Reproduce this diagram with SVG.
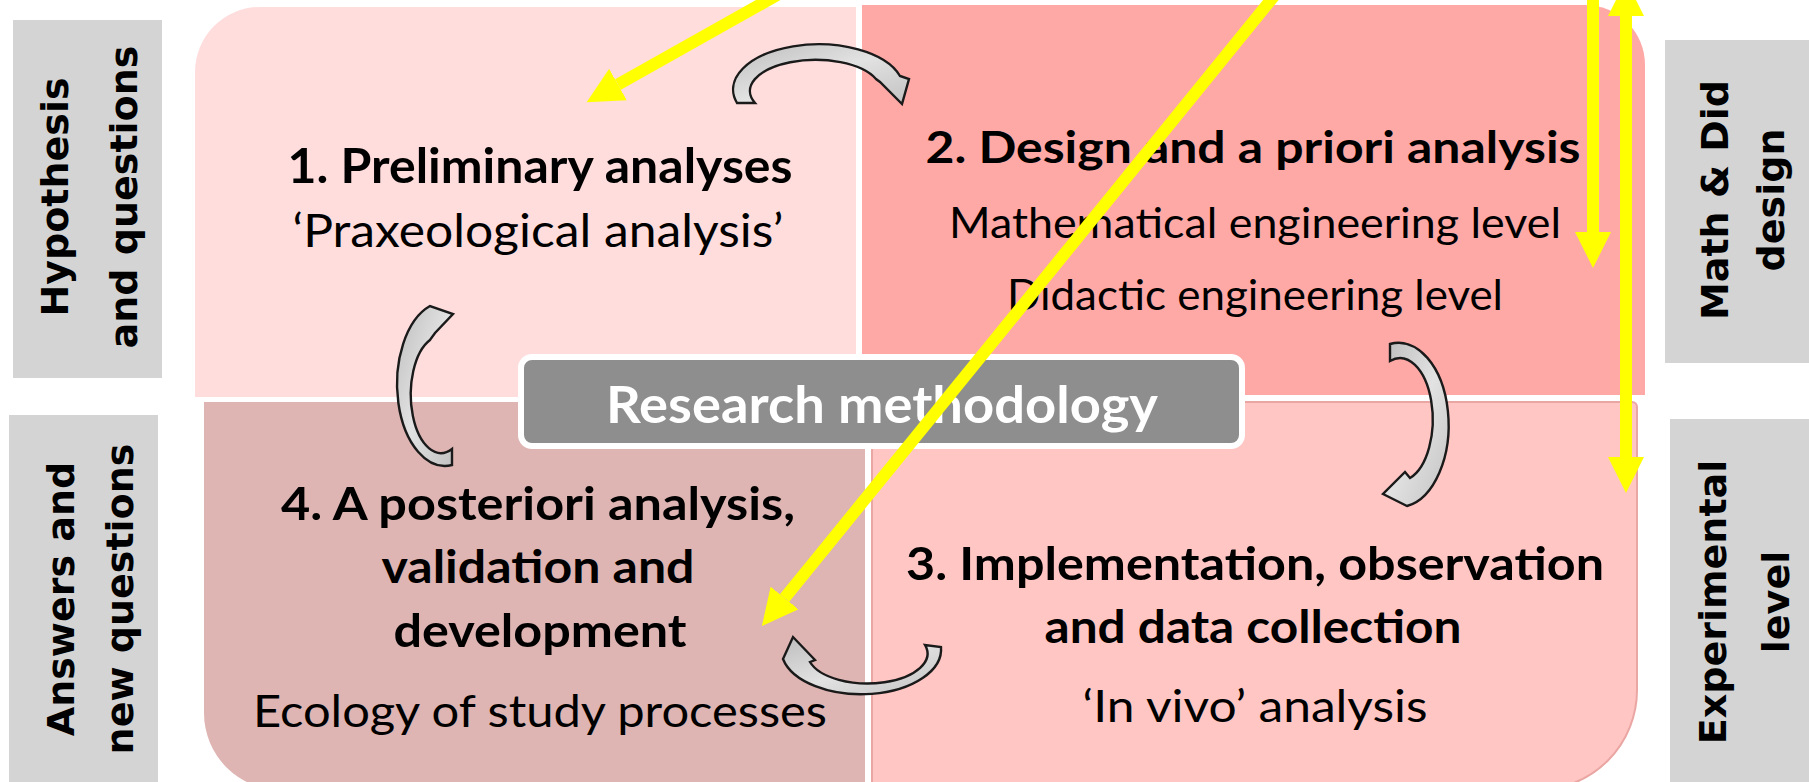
<svg xmlns="http://www.w3.org/2000/svg" width="1809" height="782" viewBox="0 0 1809 782">
<style>
.side{fill:#d4d4d4}
.slab{font-family:"DejaVu Sans",Verdana,sans-serif;font-weight:bold;font-size:38px;fill:#000;text-anchor:middle}
.t{font-family:Lato,"Open Sans",sans-serif;fill:#000;text-anchor:middle}
.b{font-weight:bold}
.garrow{fill:url(#gg);stroke:#1a1a1a;stroke-width:2.4;stroke-linejoin:miter}
.yl{stroke:#ffff00;stroke-width:12;fill:none}
</style>
<defs>
<linearGradient id="gg" x1="0" y1="0" x2="1" y2="1">
<stop offset="0" stop-color="#bdbdbd"/>
<stop offset="0.5" stop-color="#e2e2e2"/>
<stop offset="1" stop-color="#c2c2c2"/>
</linearGradient>
<marker id="yh" markerUnits="userSpaceOnUse" viewBox="0 -19 37 38" markerWidth="37" markerHeight="38" refX="0" refY="0" orient="auto-start-reverse">
<path d="M0,-18 L36,0 L0,18 Z" fill="#ffff00"/>
</marker>
</defs>
<rect width="1809" height="782" fill="#fff"/>

<g id="q1">
<path d="M195,72 A65,65 0 0 1 260,7 L856,7 L856,397 L195,397 Z" fill="#ffdddd"/>
<text class="t b" x="540" y="183" font-size="47" textLength="505" lengthAdjust="spacingAndGlyphs">1. Preliminary analyses</text>
<text class="t" x="538" y="247" font-size="46" textLength="491" lengthAdjust="spacingAndGlyphs">‘Praxeological analysis’</text>
</g>
<g id="q2">
<path d="M862,5 L1585,5 A60,60 0 0 1 1645,65 L1645,395 L862,395 Z" fill="#ffa9a7"/>
<text class="t b" x="1253" y="163" font-size="44" textLength="655" lengthAdjust="spacingAndGlyphs">2. Design and a priori analysis</text>
<text class="t" x="1255" y="238" font-size="42" textLength="612" lengthAdjust="spacingAndGlyphs">Mathematical engineering level</text>
<text class="t" x="1255" y="310" font-size="42" textLength="496" lengthAdjust="spacingAndGlyphs">Didactic engineering level</text>
</g>
<g id="q4">
<path d="M204,402 L865,402 L865,790 L281,790 A77,77 0 0 1 204,713 Z" fill="#deb5b3"/>
<text class="t b" x="538" y="520" font-size="46" textLength="514" lengthAdjust="spacingAndGlyphs">4. A posteriori analysis,</text>
<text class="t b" x="538" y="583" font-size="46" textLength="313" lengthAdjust="spacingAndGlyphs">validation and</text>
<text class="t b" x="540" y="647" font-size="46" textLength="293" lengthAdjust="spacingAndGlyphs">development</text>
<text class="t" x="540" y="727" font-size="45" textLength="574" lengthAdjust="spacingAndGlyphs">Ecology of study processes</text>
</g>
<g id="q3">
<path d="M872,402 L1632,402 A5,5 0 0 1 1637,407 L1637,690 A100,100 0 0 1 1537,790 L872,790 Z" fill="#ffc6c4" stroke="#eaa6a3" stroke-width="2"/>
<text class="t b" x="1255" y="580" font-size="46" textLength="698" lengthAdjust="spacingAndGlyphs">3. Implementation, observation</text>
<text class="t b" x="1253" y="643" font-size="46" textLength="417" lengthAdjust="spacingAndGlyphs">and data collection</text>
<text class="t" x="1255" y="722" font-size="44" textLength="345" lengthAdjust="spacingAndGlyphs">‘In vivo’ analysis</text>
</g>

<g id="cycle-arrows">
<path class="garrow" d="M737,103 A83,44 0 0 1 900,76 L909,79 L902,104 L880,82 L876,79 A61,29 0 0 0 755,103 Z"/>
<path class="garrow" d="M1390,344 A50,82 0 0 1 1407,506 L1383,494 L1405,472 L1410,478 A32,60 0 0 0 1390,361 Z"/>
<path class="garrow" d="M941,647 A80,45 0 0 1 783,659 L793,637 L815,660 L810,662 A58,29 0 0 0 925,645 Z"/>
<path class="garrow" d="M452,465 A48,82 0 0 1 430,306 L453,314 L435,333 L430,340 A30,58 0 0 0 452,449 Z"/>
</g>

<g id="center">
<rect x="521" y="357" width="721" height="89" rx="11" fill="#8e8e8e" stroke="#fff" stroke-width="6"/>
<text class="t b" x="882" y="423" font-size="51" style="fill:#fff" textLength="552" lengthAdjust="spacingAndGlyphs">Research methodology</text>
</g>

<g id="label-hyp">
<rect class="side" x="13" y="20" width="149" height="358"/>
<text class="slab" transform="translate(68,197) rotate(-90)">Hypothesis</text>
<text class="slab" transform="translate(137,197) rotate(-90)">and questions</text>
</g>
<g id="label-ans">
<rect class="side" x="9" y="415" width="149" height="367"/>
<text class="slab" transform="translate(74,599) rotate(-90)">Answers and</text>
<text class="slab" transform="translate(133,599) rotate(-90)">new questions</text>
</g>
<g id="label-math">
<rect class="side" x="1665" y="40" width="144" height="323"/>
<text class="slab" transform="translate(1728,200) rotate(-90)">Math &amp; Did</text>
<text class="slab" transform="translate(1784,200) rotate(-90)">design</text>
</g>
<g id="label-exp">
<rect class="side" x="1670" y="419" width="139" height="363"/>
<text class="slab" transform="translate(1726,602) rotate(-90)">Experimental</text>
<text class="slab" transform="translate(1789,602) rotate(-90)">level</text>
</g>

<g id="connectors">
<line class="yl" x1="786" y1="-10" x2="618" y2="84.5" marker-end="url(#yh)"/>
<line class="yl" x1="1279" y1="-10" x2="784.6" y2="598" marker-end="url(#yh)"/>
<line class="yl" x1="1593" y1="-10" x2="1593" y2="232" marker-end="url(#yh)"/>
<line class="yl" x1="1626" y1="16" x2="1626" y2="457" marker-start="url(#yh)" marker-end="url(#yh)"/>
</g>
</svg>
